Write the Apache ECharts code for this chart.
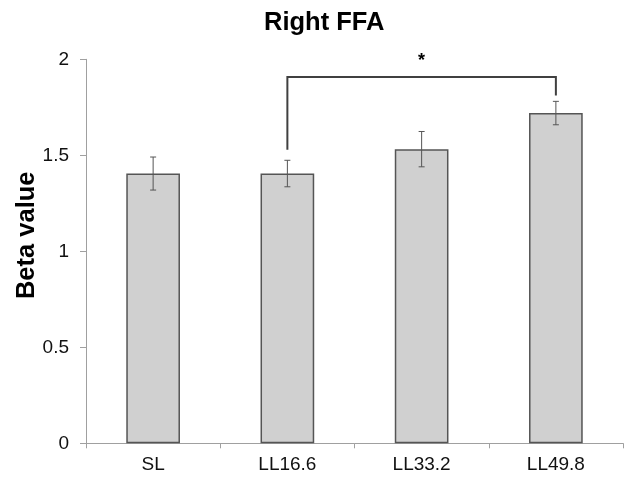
<!DOCTYPE html>
<html>
<head>
<meta charset="utf-8">
<script src="https://cdn.jsdelivr.net/npm/echarts@6/dist/echarts.min.js"></script>
<style>html,body{margin:0;padding:0;background:#fff}#chart{width:627px;height:477px}</style>
</head>
<body>
<div id="chart"></div>
<script>
const categories = ['SL', 'LL16.6', 'LL33.2', 'LL49.8'];
const values = [1.405, 1.405, 1.532, 1.72];
const errors = [0.086, 0.069, 0.092, 0.061];
const yTicks = [0, 0.5, 1, 1.5, 2];
// significance bracket: [fromIndex, toIndex, topY, leftEndY, rightEndY]
const bracket = [[1, 3, 1.908, 1.529, 1.811]];
const bracketLabel = '*';

const FONT = '"Liberation Sans", Arial, sans-serif';
const chart = echarts.init(document.getElementById('chart'));

chart.setOption({
  animation: false,
  title: {
    text: 'Right FFA',
    left: 259, top: 5,
    textStyle: { fontFamily: FONT, fontSize: 25.5, fontWeight: 'bold', color: '#000' }
  },
  grid: { left: 86, right: 4, top: 59.3, bottom: 33.7, containLabel: false, outerBoundsMode: 'none' },
  xAxis: {
    type: 'category',
    data: categories,
    axisLine: { lineStyle: { color: '#a0a0a0', width: 1 } },
    axisTick: { show: true, length: 5, alignWithLabel: false, lineStyle: { color: '#a0a0a0' } },
    axisLabel: { fontFamily: FONT, fontSize: 19, color: '#111', margin: 12 }
  },
  yAxis: {
    type: 'value',
    min: yTicks[0], max: yTicks[yTicks.length - 1], interval: 0.5,
    name: 'Beta value',
    nameLocation: 'middle',
    nameGap: 46,
    nameMoveOverlap: false,
    nameTextStyle: { fontFamily: FONT, fontSize: 25.5, fontWeight: 'bold', color: '#000', padding: [0, 0, 0, 32] },
    axisLine: { show: true, lineStyle: { color: '#a0a0a0', width: 1 } },
    axisTick: { show: true, length: 6, lineStyle: { color: '#a0a0a0' } },
    axisLabel: { fontFamily: FONT, fontSize: 19, color: '#111', margin: 17 },
    splitLine: { show: false }
  },
  series: [
    {
      type: 'bar',
      data: values,
      barWidth: '40%',
      itemStyle: { color: '#d0d0d0', borderColor: '#555', borderWidth: 1.5 },
      z: 2
    },
    {
      type: 'custom',
      data: values.map((v, i) => [i, v - errors[i], v + errors[i]]),
      encode: { x: 0, y: [1, 2] },
      z: 5,
      renderItem: function (params, api) {
        const lo = api.coord([api.value(0), api.value(1)]);
        const hi = api.coord([api.value(0), api.value(2)]);
        const cw = 3;
        const st = { stroke: '#555', lineWidth: 1 };
        return {
          type: 'group',
          children: [
            { type: 'line', shape: { x1: lo[0], y1: lo[1], x2: hi[0], y2: hi[1] }, style: st },
            { type: 'line', shape: { x1: hi[0] - cw, y1: hi[1], x2: hi[0] + cw, y2: hi[1] }, style: st },
            { type: 'line', shape: { x1: lo[0] - cw, y1: lo[1], x2: lo[0] + cw, y2: lo[1] }, style: st }
          ]
        };
      }
    },
    {
      type: 'custom',
      data: bracket,
      encode: { x: [0, 1], y: [2, 3, 4] },
      z: 5,
      renderItem: function (params, api) {
        const tl = api.coord([api.value(0), api.value(2)]);
        const tr = api.coord([api.value(1), api.value(2)]);
        const bl = api.coord([api.value(0), api.value(3)]);
        const br = api.coord([api.value(1), api.value(4)]);
        return {
          type: 'group',
          children: [
            { type: 'polyline', shape: { points: [[bl[0], bl[1]], [tl[0], tl[1]], [tr[0], tr[1]], [br[0], br[1]]] },
              style: { stroke: '#404040', lineWidth: 2, fill: null } },
            { type: 'text', x: (tl[0] + tr[0]) / 2, y: tl[1] - 16,
              style: { text: bracketLabel, font: 'bold 18px ' + FONT, fill: '#000', align: 'center', verticalAlign: 'middle' } }
          ]
        };
      }
    }
  ]
});
</script>
</body>
</html>
